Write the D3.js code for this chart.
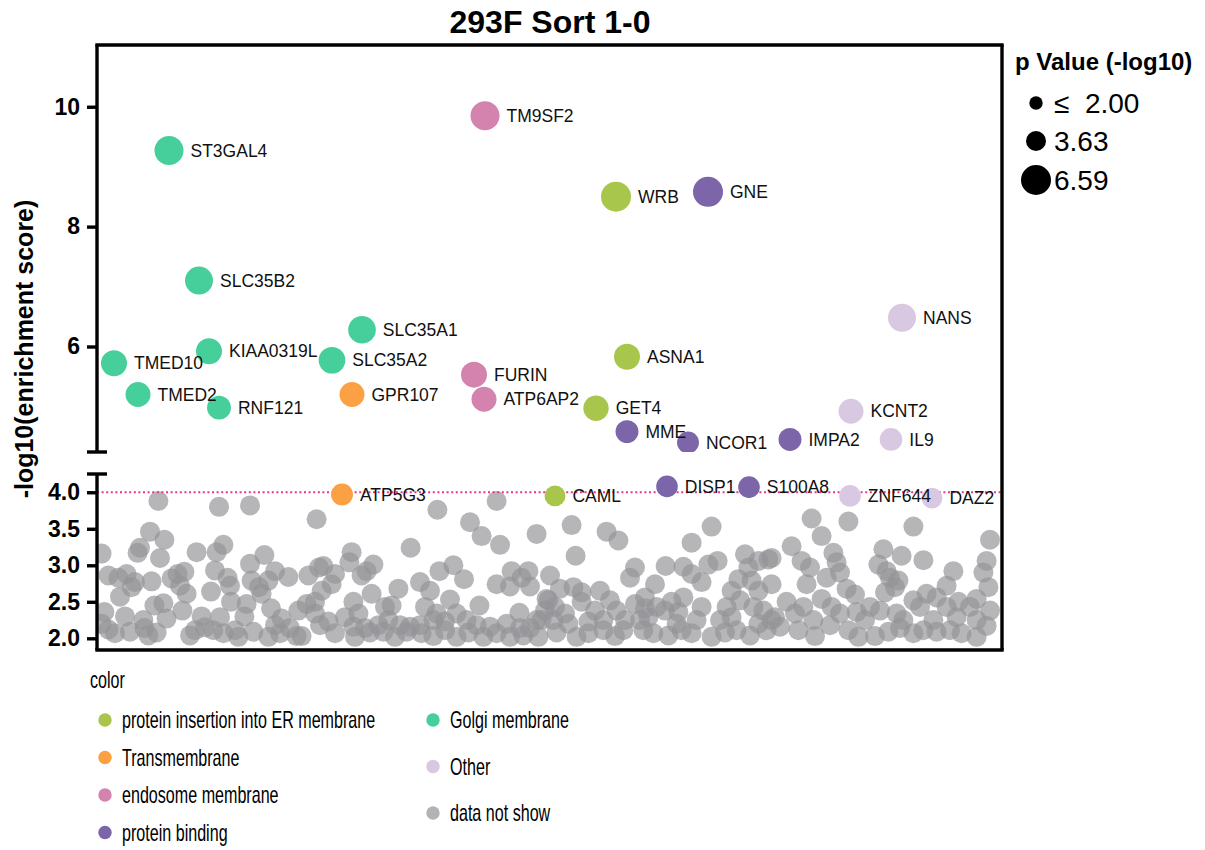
<!DOCTYPE html>
<html>
<head>
<meta charset="utf-8">
<script src="https://cdn.jsdelivr.net/npm/d3@7"></script>
<style>
body { margin: 0; background: #fff; }
svg text { font-family: "Liberation Sans", Arial, Helvetica, sans-serif; }
</style>
</head>
<body>
<div id="chart"></div>
<script>
// categories (legend order) and their colours
const categories = ['protein insertion into ER membrane', 'Transmembrane', 'endosome membrane',
    'protein binding', 'Golgi membrane', 'Other', 'data not show'];
const categoryColors = ['#a8c64b', '#fba043', '#d383ad', '#7c66a9', '#46cf9b', '#d9c8e1', '#b3b2b6'];

// labelled genes: rank on x, -log10(enrichment score) on y, p value (-log10) for size
const genes = ['ST3GAL4', 'TM9SF2', 'WRB', 'GNE', 'SLC35B2', 'NANS', 'SLC35A1', 'KIAA0319L',
    'TMED10', 'SLC35A2', 'ASNA1', 'FURIN', 'TMED2', 'GPR107', 'ATP6AP2', 'RNF121', 'GET4',
    'KCNT2', 'MME', 'NCOR1', 'IMPA2', 'IL9', 'ATP5G3', 'CAML', 'DISP1', 'S100A8', 'ZNF644', 'DAZ2'];
const geneRank = [36, 194, 259.5, 305.5, 51, 402.5, 132.5, 56, 8.5, 117.5, 265, 188.5, 20.5,
    127.5, 193.5, 61, 249.5, 377, 265, 295.5, 346.5, 397, 122.5, 229, 285, 326, 376.5, 417.5];
const geneScore = [9.27, 9.85, 8.5, 8.58, 7.1, 6.48, 6.28, 5.92, 5.72, 5.77, 5.83, 5.53, 5.2,
    5.2, 5.12, 4.98, 4.97, 4.92, 4.58, 4.4, 4.45, 4.45, 3.97, 3.95, 4.08, 4.07, 3.95, 3.92];
const genePval = [6.3, 6.3, 6.59, 6.59, 6.0, 6.0, 5.9, 5.4, 5.4, 5.6, 5.4, 5.4, 5.1, 5.1, 5.1,
    4.8, 5.2, 5.1, 4.5, 4.2, 4.5, 4.4, 4.2, 3.9, 4.1, 4.1, 4.1, 3.9];
const geneGroup = [4, 2, 0, 3, 4, 5, 4, 4, 4, 4, 0, 2, 4, 1, 2, 4, 0, 5, 3, 3, 3, 5, 1, 0, 3, 3, 5, 5];

// genes not shown by name: [rank, score]
const greyPval = 3.63;
const greyPoints = [
    [30.7,3.88],[61,3.80],[76.5,3.82],[109.8,3.63],[26.5,3.46],[33.7,3.35],[21.5,3.24],[20.3,3.17],
    [31.5,3.10],[2.3,3.16],[49.8,3.18],[63.2,3.28],[59.8,3.18],[83.7,3.14],[76.5,3.02],[59,2.93],
    [5.7,2.86],[10.7,2.83],[14.8,2.88],[19,2.77],[17.3,2.70],[27.3,2.78],[37.3,2.82],[40.3,2.88],
    [43.7,2.91],[41.5,2.72],[44.8,2.61],[11.5,2.57],[65.3,2.83],[66.5,2.72],[57,2.64],[67,2.50],
    [74.8,2.47],[77.3,2.79],[81,2.70],[82.3,2.61],[89,2.92],[85.7,2.79],[95.7,2.84],[105.7,2.86],
    [111,2.97],[112.3,2.65],[28.7,2.45],[33.2,2.48],[34.8,2.27],[42.7,2.38],[3.7,2.36],[14,2.30],
    [23.2,2.25],[23.7,2.14],[25.7,2.04],[29.8,2.08],[5.7,2.12],[9,2.07],[16.5,2.09],[2.3,2.20],
    [52.3,2.30],[61.5,2.29],[73.7,2.30],[87,2.41],[92.3,2.27],[100.7,2.38],[104.8,2.47],[109,2.34],
    [46.5,2.04],[49,2.11],[54,2.15],[58.2,2.11],[63.2,2.07],[69,2.11],[70.7,2.02],[78.2,2.09],
    [85.7,2.02],[91.5,2.07],[89,2.18],[96.5,2.14],[99.8,2.03],[102.3,2.03],[111.5,2.18],[109,2.50],
    [170.2,3.76],[199.8,3.88],[186.5,3.59],[192.3,3.40],[201.5,3.28],[219.8,3.43],[156.8,3.24],
    [127.3,3.18],[126.2,3.04],[138.2,3.01],[134.8,2.92],[132.3,2.86],[113.2,2.99],[119,2.88],
    [117.3,2.74],[171.2,2.92],[178.2,3.00],[183.5,2.81],[161.5,2.77],[166.5,2.65],[150.7,2.68],
    [137.3,2.61],[128.2,2.50],[176.5,2.53],[199.8,2.74],[207.3,2.92],[215.7,2.92],[212.3,2.83],
    [206.5,2.71],[216.5,2.71],[224.8,2.54],[144,2.43],[147.3,2.45],[164,2.43],[169.8,2.34],
    [179.8,2.34],[191.2,2.45],[211.2,2.35],[219.8,2.25],[224,2.38],[130.7,2.34],[124,2.29],
    [115.7,2.23],[128.2,2.16],[134,2.14],[140.7,2.18],[145.7,2.25],[151.5,2.18],[156.5,2.16],
    [161.5,2.18],[168.2,2.25],[174,2.23],[184.8,2.25],[189.8,2.18],[196.5,2.16],[204.8,2.20],
    [211.5,2.14],[216.5,2.14],[222.3,2.25],[119,2.07],[129,2.02],[136.5,2.08],[143.2,2.09],
    [149,2.02],[154.8,2.09],[162.3,2.07],[168.2,2.03],[174,2.11],[179.8,2.02],[185.7,2.08],
    [193.2,2.02],[199.8,2.07],[206.5,2.02],[213.2,2.04],[220.7,2.02],
    [237.3,3.55],[254.8,3.46],[260.7,3.34],[239.3,3.13],[307.3,3.53],[297.3,3.31],[226.5,2.86],
    [269,2.97],[266.5,2.83],[284.3,2.99],[293.2,2.98],[297.3,2.88],[305.7,3.01],[310.3,3.06],
    [279,2.74],[302.3,2.77],[324,3.15],[330.7,3.06],[335.7,3.08],[325.7,2.97],[320.7,2.81],
    [327.3,2.79],[317.3,2.65],[330.7,2.65],[231.5,2.68],[238.2,2.70],[242.3,2.63],[251.5,2.65],
    [256.5,2.52],[274,2.56],[293.2,2.56],[287.3,2.50],[225.7,2.52],[229,2.43],[234,2.34],
    [242.3,2.50],[249,2.38],[259.8,2.38],[269,2.47],[274,2.41],[279.8,2.43],[284,2.38],
    [290.7,2.36],[302.3,2.43],[314.8,2.43],[321.5,2.52],[328.2,2.43],[333.2,2.38],[228.2,2.25],
    [235.7,2.20],[245.7,2.23],[253.2,2.25],[264,2.25],[271.5,2.25],[275.7,2.29],[289.8,2.20],
    [299.8,2.25],[311.5,2.25],[317.3,2.29],[330.7,2.20],[337.3,2.25],[229.8,2.08],[239.8,2.02],
    [245.7,2.07],[253.2,2.11],[259,2.03],[263.2,2.11],[273.2,2.11],[278.2,2.07],[285.7,2.04],
    [292.3,2.11],[297.3,2.07],[307.3,2.02],[314,2.08],[319.8,2.11],[326.5,2.04],[334.8,2.11],
    [357.3,3.64],[375.7,3.60],[362.3,3.40],[408.2,3.53],[446.5,3.35],[347.3,3.26],[393.2,3.22],
    [368.2,3.17],[402.3,3.13],[337.3,3.10],[352.3,3.06],[369.8,3.04],[413.2,3.07],[444.8,3.06],
    [356.5,2.97],[371.5,2.90],[390.7,3.01],[394.8,2.92],[428.2,2.92],[443.2,2.90],[364.8,2.83],
    [396.5,2.83],[400.7,2.79],[354.8,2.74],[374.8,2.68],[379,2.60],[394,2.63],[399,2.70],
    [424.8,2.72],[430.7,2.50],[439.8,2.54],[445.7,2.70],[337.3,2.74],[344.8,2.50],[362.3,2.54],
    [353.2,2.43],[367.3,2.43],[386.5,2.43],[408.2,2.52],[414.8,2.61],[419.8,2.56],[411.5,2.43],
    [424.8,2.43],[436.5,2.43],[446.5,2.38],[339,2.29],[349,2.34],[358.2,2.25],[371.5,2.34],
    [379.8,2.36],[384,2.25],[391.5,2.38],[399.8,2.34],[403.2,2.25],[418.2,2.25],[429.8,2.29],
    [439.8,2.25],[341.5,2.16],[350.7,2.11],[359,2.03],[366.5,2.18],[375.7,2.11],[380.7,2.02],
    [389,2.03],[395.7,2.09],[401.5,2.14],[408.2,2.07],[413.2,2.11],[419.8,2.09],[426.5,2.11],
    [432.3,2.07],[439.8,2.02],[444.8,2.17]
];

// axis ticks and legend values
const upperTicks = [6, 8, 10];
const lowerTicks = [2.0, 2.5, 3.0, 3.5, 4.0];
const threshold = 4.0;
const sizeLegend = [2.00, 3.63, 6.59];
const sizeLegendText = ['\u2264\u00a0\u00a02.00', '3.63', '6.59'];

const W = 1205, H = 850;
const plotLeft = 97, plotRight = 1002, plotTop = 45, breakTop = 452, breakBottom = 474, plotBottom = 650;

const svg = d3.select('#chart').append('svg').attr('width', W).attr('height', H);

const x = d3.scaleLinear().domain([0, 452.5]).range([plotLeft, plotRight]);
const yTop = d3.scaleLinear().domain([4.24, 11.03]).range([breakTop, plotTop]);
const yBot = d3.scaleLinear().domain([1.84, 4.25]).range([plotBottom, breakBottom]);
const r = d3.scaleLinear().domain([2, 3.63, 6.59]).range([6.7, 10, 15]);

const defs = svg.append('defs');
defs.append('clipPath').attr('id', 'clipTop').append('rect')
    .attr('x', plotLeft).attr('y', plotTop).attr('width', plotRight - plotLeft).attr('height', breakTop - plotTop);
defs.append('clipPath').attr('id', 'clipBot').append('rect')
    .attr('x', plotLeft).attr('y', breakBottom).attr('width', plotRight - plotLeft).attr('height', plotBottom - breakBottom);

const geneData = genes.map((g, i) => ({
    name: g, rank: geneRank[i], score: geneScore[i], p: genePval[i], group: geneGroup[i]
}));
const upperGenes = geneData.filter(d => d.score >= 4.24);
const lowerGenes = geneData.filter(d => d.score < 4.24);

// lower panel
const gBot = svg.append('g').attr('clip-path', 'url(#clipBot)');
gBot.selectAll('circle.grey')
    .data(greyPoints)
    .enter().append('circle')
    .attr('class', 'grey')
    .attr('cx', d => x(d[0]))
    .attr('cy', d => yBot(d[1]))
    .attr('r', r(greyPval))
    .attr('fill', '#949398')
    .attr('fill-opacity', 0.68);

gBot.append('line')
    .attr('x1', plotLeft).attr('x2', plotRight)
    .attr('y1', yBot(threshold)).attr('y2', yBot(threshold))
    .attr('stroke', '#e8358f')
    .attr('stroke-width', 2.2)
    .attr('stroke-dasharray', '2,2.6');

gBot.selectAll('circle.gene')
    .data(lowerGenes)
    .enter().append('circle')
    .attr('class', 'gene')
    .attr('cx', d => x(d.rank))
    .attr('cy', d => yBot(d.score))
    .attr('r', d => r(d.p))
    .attr('fill', d => categoryColors[d.group]);

// upper panel
const gTop = svg.append('g').attr('clip-path', 'url(#clipTop)');
gTop.selectAll('circle.gene')
    .data(upperGenes)
    .enter().append('circle')
    .attr('class', 'gene')
    .attr('cx', d => x(d.rank))
    .attr('cy', d => yTop(d.score))
    .attr('r', d => r(d.p))
    .attr('fill', d => categoryColors[d.group]);

// gene labels on top of all circles
svg.append('g').selectAll('text')
    .data(geneData)
    .enter().append('text')
    .attr('x', d => x(d.rank) + r(d.p) + 7)
    .attr('y', d => (d.score >= 4.24 ? yTop(d.score) : yBot(d.score)))
    .attr('dy', '0.35em')
    .attr('font-size', 17.5)
    .attr('fill', '#111')
    .text(d => d.name);

// frame
const frame = svg.append('g').attr('stroke', '#000').attr('stroke-width', 3.4).attr('fill', 'none');
frame.append('line').attr('x1', plotLeft - 1.7).attr('x2', plotRight + 1.7).attr('y1', plotTop).attr('y2', plotTop);
frame.append('line').attr('x1', plotRight).attr('x2', plotRight).attr('y1', plotTop).attr('y2', plotBottom);
frame.append('line').attr('x1', plotLeft - 1.7).attr('x2', plotRight + 1.7).attr('y1', plotBottom).attr('y2', plotBottom);
frame.append('line').attr('x1', plotLeft).attr('x2', plotLeft).attr('y1', plotTop).attr('y2', breakTop);
frame.append('line').attr('x1', plotLeft).attr('x2', plotLeft).attr('y1', breakBottom).attr('y2', plotBottom);
frame.append('line').attr('x1', plotLeft - 10).attr('x2', plotLeft + 10).attr('y1', breakTop).attr('y2', breakTop);
frame.append('line').attr('x1', plotLeft - 10).attr('x2', plotLeft + 10).attr('y1', breakBottom).attr('y2', breakBottom);

// axes
function styleAxis(g) {
    g.select('.domain').remove();
    g.selectAll('.tick line').attr('stroke', '#000').attr('stroke-width', 3.4);
    g.selectAll('.tick text').attr('font-size', 23).attr('font-weight', 'bold').attr('fill', '#000')
        .style('font-family', '"Liberation Sans", Arial, sans-serif');
}
svg.append('g')
    .attr('transform', `translate(${plotLeft},0)`)
    .call(d3.axisLeft(yTop).tickValues(upperTicks).tickSize(10).tickPadding(7).tickFormat(d3.format('d')))
    .call(styleAxis);
svg.append('g')
    .attr('transform', `translate(${plotLeft},0)`)
    .call(d3.axisLeft(yBot).tickValues(lowerTicks).tickSize(10).tickPadding(7).tickFormat(d3.format('.1f')))
    .call(styleAxis);

// titles
svg.append('text')
    .attr('x', 550).attr('y', 33)
    .attr('text-anchor', 'middle')
    .attr('font-size', 32).attr('font-weight', 'bold')
    .text('293F Sort 1-0');

svg.append('text')
    .attr('transform', `translate(33,349) rotate(-90)`)
    .attr('text-anchor', 'middle')
    .attr('font-size', 25).attr('font-weight', 'bold')
    .text('-log10(enrichment score)');

// size legend
const sizeG = svg.append('g');
sizeG.append('text')
    .attr('x', 1015).attr('y', 70)
    .attr('font-size', 24).attr('font-weight', 'bold')
    .text('p Value (-log10)');
const sizeRows = sizeG.selectAll('g.row')
    .data(sizeLegend)
    .enter().append('g')
    .attr('class', 'row')
    .attr('transform', (d, i) => `translate(1036,${[103, 141, 180][i]})`);
sizeRows.append('circle').attr('r', d => r(d)).attr('fill', '#000');
sizeRows.append('text')
    .attr('x', 18).attr('dy', '0.36em')
    .attr('font-size', 28)
    .text((d, i) => sizeLegendText[i]);

// colour legend (condensed text)
const squeeze = 0.7;
const colG = svg.append('g');
colG.append('text')
    .attr('transform', `translate(90,688) scale(${squeeze},1)`)
    .attr('font-size', 23)
    .text('color');
const colPos = categories.map((c, i) => i < 4
    ? { cx: 105, cy: 720 + i * 37.5 }
    : { cx: 433, cy: 720 + (i - 4) * 46.5 });
const colRows = colG.selectAll('g.entry')
    .data(categories)
    .enter().append('g')
    .attr('class', 'entry')
    .attr('transform', (d, i) => `translate(${colPos[i].cx},${colPos[i].cy})`);
colRows.append('circle').attr('r', 6.7).attr('fill', (d, i) => categoryColors[i]);
colRows.append('text')
    .attr('transform', `translate(17,0) scale(${squeeze},1)`)
    .attr('dy', '0.36em')
    .attr('font-size', 23)
    .text(d => d);
</script>
</body>
</html>
